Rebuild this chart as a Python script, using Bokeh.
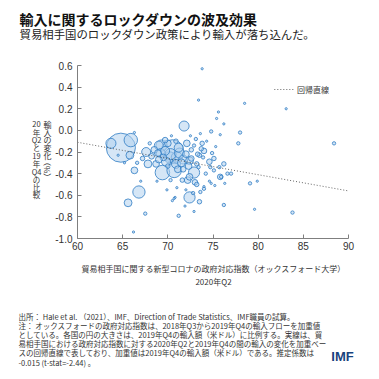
import math
from bokeh.plotting import figure
from bokeh.layouts import column, row
from bokeh.models import Label, ColumnDataSource, Range1d, FixedTicker, CustomJSTickFormatter
from bokeh.embed import file_html
from bokeh.resources import INLINE

# ---------------- data ----------------
title_text = "輸入に関するロックダウンの波及効果"
subtitle_text = "貿易相手国のロックダウン政策により輸入が落ち込んだ。"
x_label_1 = "貿易相手国に関する新型コロナの政府対応指数（オックスフォード大学）"
x_label_2 = "2020年Q2"
y_label_col1 = ["輸", "入", "の", "変", "化"]
y_label_pct = "（%）"
y_label_col2 = ["20", "年", "Q2", "と", "19", "年", "Q4", "の", "比", "較"]
legend_text = "回帰直線"
notes = [
    "出所： Hale et al. （2021）、IMF、Direction of Trade Statistics、IMF職員の試算。",
    "注： オックスフォードの政府対応指数は、2018年Q3から2019年Q4の輸入フローを加重値",
    "としている。各国の円の大きさは、2019年Q4の輸入額（米ドル）に比例する。実線は、貿",
    "易相手国における政府対応指数に対する2020年Q2と2019年Q4の間の輸入の変化を加重ベー",
    "スの回帰直線で表しており、加重値は2019年Q4の輸入額（米ドル）である。推定係数は",
    "-0.015 (t-stat=-2.44) 。",
]

x_ticks = [60, 65, 70, 75, 80, 85, 90]
y_ticks = [0.6, 0.4, 0.2, 0.0, -0.2, -0.4, -0.6, -0.8, -1.0]

# stringency index (x), import change (y), 2019Q4 imports (relative, bubble area)
stringency = [
    64.8, 63.7, 65.9, 65.8, 66.3, 66.8, 65.6, 67.5, 66.2, 64.5,
    66.3, 71.8, 70.5, 69.4, 70.7, 67.6, 67.8, 69.0, 72.4, 72.9,
    72.2, 71.2, 70.5, 70.8, 71.6, 70.3, 73.8, 73.4, 78.5, 83.1,
    75.6, 75.4, 76.2, 75.8, 74.8, 78.0, 77.8, 88.4, 73.8, 72.9,
    74.0, 73.5, 74.9, 75.1, 74.6, 76.2, 74.7, 75.7, 75.1, 76.6,
    75.8, 77.0, 76.3, 75.2, 79.1, 79.9, 73.5, 74.0, 76.2, 79.6,
    83.8, 72.9, 73.0, 72.4, 69.3, 69.2, 70.2, 71.0, 71.2, 69.7,
    68.7, 72.1, 73.2, 72.4, 73.7, 73.9, 68.5, 68.2, 69.8, 70.0,
    71.5, 70.9, 72.0, 71.3, 69.5, 72.6, 73.1, 72.5, 71.7, 70.0,
    68.0, 67.2, 73.4, 74.2, 72.0, 71.0, 73.6, 74.3, 68.8, 67.0,
    69.9, 72.8, 70.4, 66.6, 65.2, 74.6, 73.2, 71.9, 75.3, 70.7,
    73.6, 74.0, 74.8, 75.9, 70.3, 71.7, 69.0, 70.9, 72.3, 68.9,
    71.1, 69.7, 72.6, 73.3,
]
import_change = [
    -0.16, -0.12, -0.09, -0.23, -0.37, -0.57, -0.67, -0.77, -0.94, -0.23,
    -0.02, 0.04, -0.19, -0.39, -0.37, -0.20, -0.31, -0.14, -0.62, -0.39,
    -0.46, -0.79, -0.65, -0.62, -0.46, -0.46, 0.57, 0.28, 0.25, 0.20,
    0.17, 0.11, 0.06, -0.04, -0.01, -0.02, -0.12, -0.12, -0.12, -0.14,
    -0.19, -0.23, -0.21, -0.26, -0.29, -0.31, -0.34, -0.34, -0.37, -0.40,
    -0.43, -0.40, -0.49, -0.51, -0.49, -0.47, -0.66, -0.54, -0.69, -0.73,
    -0.76, -0.75, -0.48, -0.28, -0.14, -0.21, -0.25, -0.25, -0.16, -0.19,
    -0.31, -0.12, -0.31, -0.43, -0.17, -0.25, -0.18, -0.24, -0.29, -0.12,
    -0.30, -0.10, -0.22, -0.21, -0.25, -0.18, -0.08, -0.05, -0.36, -0.33,
    -0.12, -0.26, -0.34, -0.40, -0.55, -0.53, -0.03, -0.10, -0.47, -0.47,
    -0.55, -0.58, -0.05, -0.30, -0.30, -0.47, -0.50, -0.70, -0.15, -0.63,
    -0.57, -0.52, -0.49, -0.43, -0.22, -0.27, -0.27, -0.31, -0.33, -0.21,
    -0.36, -0.09, -0.26, -0.22,
]
imports_2019q4 = [
    2704, 324, 576, 196, 144, 484, 196, 36, 16, 16,
    16, 324, 1600, 676, 676, 256, 196, 256, 400, 400,
    144, 36, 16, 16, 64, 36, 16, 16, 16, 16,
    16, 16, 16, 16, 36, 36, 36, 36, 64, 36,
    100, 64, 36, 64, 100, 64, 36, 36, 36, 36,
    100, 36, 16, 16, 36, 16, 64, 36, 36, 16,
    36, 16, 100, 196, 400, 256, 400, 400, 256, 256,
    144, 144, 64, 144, 64, 36, 144, 100, 256, 144,
    196, 64, 144, 324, 144, 64, 36, 16, 100, 64,
    36, 64, 36, 36, 16, 16, 16, 16, 16, 16,
    16, 36, 16, 36, 16, 16, 64, 16, 16, 16,
    36, 16, 16, 36, 400, 256, 144, 256, 144, 144,
    144, 100, 100, 64,
]

# regression line endpoints (slope -0.015)
reg_x = [60, 90]
reg_y = [-0.11, -0.56]

# ---------------- layout geometry (page pixels) ----------------
W = 375
HEAD_H = 50
LEFT_W = 52
MAIN_H = 206
FOOT_H = 375 - HEAD_H - MAIN_H
FL, FT, FRX, FBY = 74, 65, 348, 238   # plot frame in page pixels
MAIN_W = W - LEFT_W


def text_panel(width, height, x0, y0):
    f = figure(width=width, height=height, output_backend="svg",
               toolbar_location=None, x_axis_type=None, y_axis_type=None,
               x_range=Range1d(x0, x0 + width), y_range=Range1d(y0 + height, y0),
               min_border=0, min_border_left=0, min_border_right=0,
               min_border_top=0, min_border_bottom=0)
    f.outline_line_color = None
    f.grid.visible = False
    return f


def lab(fig, text, px, py, size, bold=False, color="#333333", align="left",
        font="Noto Sans CJK JP", angle=0.0):
    fig.add_layout(Label(x=px, y=py, text=text, text_font=font,
                         text_font_size=f"{size}px",
                         text_font_style="bold" if bold else "normal",
                         text_color=color, text_align=align,
                         text_baseline="middle", angle=angle))


# header
head = text_panel(W, HEAD_H, 0, 0)
lab(head, title_text, 19, 18, 14, bold=True, color="#111111")
lab(head, subtitle_text, 19, 33, 11.4, color="#222222")

# left vertical y-axis label
left = text_panel(LEFT_W, MAIN_H, 0, HEAD_H)
for i, ch in enumerate(y_label_col1):
    lab(left, ch, 47, 120 + i * 9.2, 8, align="center")
lab(left, y_label_pct, 47, 174, 8, align="center", angle=-math.pi / 2)
for i, ch in enumerate(y_label_col2):
    lab(left, ch, 36, 120 + i * 9.35, 7.5, align="center")

# main chart
p = figure(width=MAIN_W, height=MAIN_H, output_backend="svg",
           toolbar_location=None,
           x_range=Range1d(60, 90), y_range=Range1d(-1.0, 0.6),
           min_border_left=FL - LEFT_W, min_border_right=W - FRX,
           min_border_top=FT - HEAD_H,
           min_border_bottom=HEAD_H + MAIN_H - FBY)
p.outline_line_color = None
p.grid.visible = False

for ax in (p.xaxis[0], p.yaxis[0]):
    ax.axis_line_color = "#7f7f7f"
    ax.major_tick_line_color = "#7f7f7f"
    ax.major_tick_in = 4
    ax.major_tick_out = 0
    ax.minor_tick_line_color = None
    ax.major_label_text_font = "Liberation Sans"
    ax.major_label_text_font_size = "10px"
    ax.major_label_text_color = "#333333"

p.xaxis[0].ticker = FixedTicker(ticks=x_ticks)
p.yaxis[0].ticker = FixedTicker(ticks=y_ticks)
p.xaxis[0].major_label_standoff = 3
p.yaxis[0].major_label_standoff = 5
p.yaxis[0].formatter = CustomJSTickFormatter(code="return tick.toFixed(1);")

sizes = [2 * 0.28 * math.sqrt(v) for v in imports_2019q4]
order = sorted(range(len(sizes)), key=lambda i: -sizes[i])
src = ColumnDataSource(dict(
    x=[stringency[i] for i in order],
    y=[import_change[i] for i in order],
    s=[sizes[i] for i in order],
))
p.scatter("x", "y", size="s", source=src, fill_color="#b3d1ee",
          fill_alpha=0.55, line_color="#2f7cc4", line_width=0.8)

p.line(reg_x, reg_y, line_color="#555555", line_width=0.9, line_dash="1 2")


def px_to_x(px):
    return 60 + (px - FL) / (FRX - FL) * 30


def py_to_y(py):
    return 0.6 - (py - FT) / (FBY - FT) * 1.6


p.line(x=[px_to_x(273), px_to_x(293)], y=[py_to_y(89)] * 2,
       line_color="#555555", line_width=0.9, line_dash="1 2")
p.add_layout(Label(x=px_to_x(296), y=py_to_y(89), text=legend_text,
                   text_font="Noto Sans CJK JP", text_font_size="8px",
                   text_color="#333333", text_baseline="middle"))

# footer
foot = text_panel(W, FOOT_H, 0, HEAD_H + MAIN_H)
lab(foot, x_label_1, 213, 268, 8, align="center")
lab(foot, x_label_2, 213, 281, 8, align="center")
for i, line in enumerate(notes):
    lab(foot, line, 18, 316 + i * 9.1, 7.5)
lab(foot, "IMF", 342, 356, 13, bold=True, color="#17427d", align="center",
    font="Liberation Sans")

layout = column(head, row(left, p), foot)
open("out.html", "w").write(file_html(layout, INLINE))
